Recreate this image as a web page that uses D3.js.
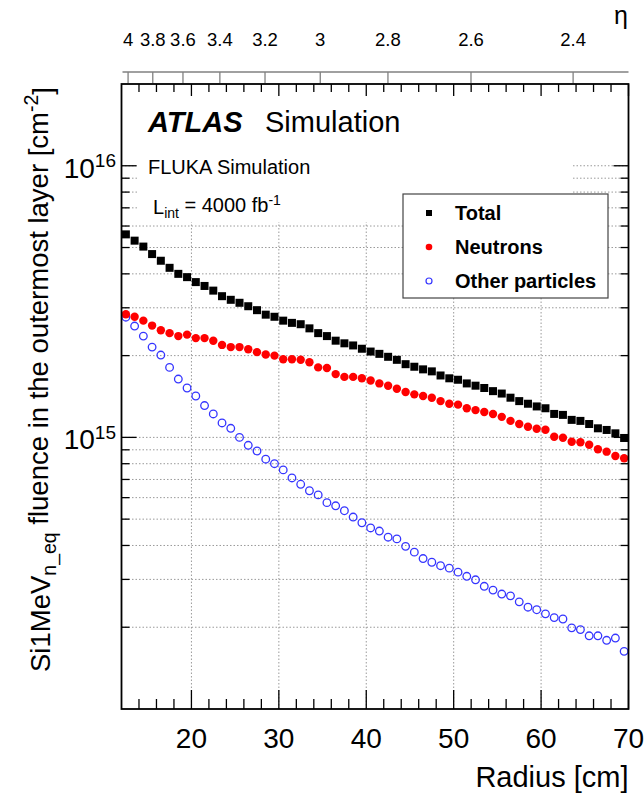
<!DOCTYPE html>
<html>
<head>
<meta charset="utf-8">
<script src="https://cdn.jsdelivr.net/npm/d3@7/dist/d3.min.js"></script>
<style>
  body { margin: 0; background: #fff; }
  svg { display: block; font-family: "Liberation Sans", Arial, Helvetica, sans-serif; }
</style>
</head>
<body>
<script>
// radius bin centres [cm]
const radius = [12.5, 13.5, 14.5, 15.5, 16.5, 17.5, 18.5, 19.5, 20.5, 21.5,
  22.5, 23.5, 24.5, 25.5, 26.5, 27.5, 28.5, 29.5, 30.5, 31.5,
  32.5, 33.5, 34.5, 35.5, 36.5, 37.5, 38.5, 39.5, 40.5, 41.5,
  42.5, 43.5, 44.5, 45.5, 46.5, 47.5, 48.5, 49.5, 50.5, 51.5,
  52.5, 53.5, 54.5, 55.5, 56.5, 57.5, 58.5, 59.5, 60.5, 61.5,
  62.5, 63.5, 64.5, 65.5, 66.5, 67.5, 68.5, 69.5];

// fluence in units of 1e15 cm^-2
const unit = 1e15;
const total = [5.59, 5.30, 5.04, 4.73, 4.47, 4.21, 4.00, 3.89, 3.73, 3.61,
  3.47, 3.31, 3.21, 3.13, 3.04, 2.94, 2.83, 2.78, 2.69, 2.64,
  2.61, 2.52, 2.42, 2.36, 2.27, 2.22, 2.18, 2.12, 2.07, 2.03,
  1.98, 1.93, 1.86, 1.82, 1.78, 1.75, 1.69, 1.65, 1.63, 1.58,
  1.55, 1.52, 1.48, 1.45, 1.40, 1.36, 1.33, 1.30, 1.28, 1.22,
  1.21, 1.16, 1.15, 1.12, 1.08, 1.065, 1.035, 0.995];
const neutrons = [2.84, 2.78, 2.69, 2.58, 2.48, 2.42, 2.36, 2.39, 2.32, 2.32,
  2.27, 2.19, 2.15, 2.15, 2.11, 2.06, 2.02, 2.00, 1.94, 1.94,
  1.93, 1.89, 1.81, 1.80, 1.71, 1.67, 1.67, 1.65, 1.62, 1.58,
  1.55, 1.51, 1.47, 1.44, 1.42, 1.40, 1.36, 1.33, 1.32, 1.28,
  1.26, 1.24, 1.22, 1.19, 1.15, 1.12, 1.095, 1.076, 1.067, 1.006,
  0.997, 0.964, 0.959, 0.940, 0.904, 0.886, 0.854, 0.838];
const others = [2.77, 2.57, 2.36, 2.15, 2.01, 1.81, 1.64, 1.52, 1.42, 1.31,
  1.22, 1.13, 1.08, 1.00, 0.935, 0.891, 0.831, 0.800, 0.759, 0.709,
  0.672, 0.636, 0.614, 0.575, 0.560, 0.537, 0.509, 0.485, 0.464, 0.452,
  0.429, 0.423, 0.397, 0.378, 0.358, 0.347, 0.337, 0.330, 0.319, 0.308,
  0.299, 0.283, 0.274, 0.265, 0.261, 0.248, 0.237, 0.232, 0.224, 0.217,
  0.2145, 0.199, 0.196, 0.186, 0.186, 0.179, 0.1825, 0.163];

// axis ticks
const xMajor = [20, 30, 40, 50, 60, 70];
const xMinor = [14, 16, 18, 22, 24, 26, 28, 32, 34, 36, 38, 42, 44, 46, 48,
  52, 54, 56, 58, 62, 64, 66, 68];
const xGrid = [20, 30, 40, 50, 60];
const yMajor = [1e15, 1e16];
const yMajorExp = ["15", "16"];
const yMinor = [2e14, 3e14, 4e14, 5e14, 6e14, 7e14, 8e14, 9e14,
  2e15, 3e15, 4e15, 5e15, 6e15, 7e15, 8e15, 9e15];
const etaTicks = [4, 3.8, 3.6, 3.4, 3.2, 3, 2.8, 2.6, 2.4];
const etaZ = 348; // z of the layer [cm], used to map eta -> radius

const legendEntries = ["Total", "Neutrons", "Other particles"];

const W = 644, H = 795;
const svg = d3.select("body").append("svg")
  .attr("width", W)
  .attr("height", H);

const x = d3.scaleLinear().domain([12, 70]).range([121.5, 628.5]);
const y = d3.scaleLog().domain([1e14, 2e16]).range([709, 84]);
const x0 = x.range()[0], x1 = x.range()[1];
const y0 = y.range()[0], y1 = y.range()[1];

function etaToRadius(eta) {
  let theta = 2 * Math.atan(Math.exp(-eta));
  return etaZ * Math.tan(theta);
}

/* GRID */
const gridColor = "#9a9a9a";
svg.append("g").selectAll("line")
  .data(yMajor.concat(yMinor))
  .join("line")
  .attr("x1", x0).attr("x2", x1)
  .attr("y1", d => y(d)).attr("y2", d => y(d))
  .style("stroke", gridColor)
  .style("stroke-width", 1)
  .style("stroke-dasharray", "1.5,2");

svg.append("g").selectAll("line")
  .data(xGrid)
  .join("line")
  .attr("x1", d => x(d)).attr("x2", d => x(d))
  .attr("y1", y0).attr("y2", y1)
  .style("stroke", gridColor)
  .style("stroke-width", 1)
  .style("stroke-dasharray", "1.5,2");

// white pad behind the labels hides the grid there
svg.append("rect")
  .attr("x", 137).attr("y", y1 + 1)
  .attr("width", 572 - 137).attr("height", 221 - y1)
  .style("fill", "#fff");

/* DATA */
const pts = radius.map((r, i) => ({r: r, t: total[i] * unit, n: neutrons[i] * unit, o: others[i] * unit}));

svg.append("g").selectAll("circle")
  .data(pts)
  .join("circle")
  .attr("cx", d => x(d.r))
  .attr("cy", d => y(d.o))
  .attr("r", 3.8)
  .style("fill", "none")
  .style("stroke", "#3535ff")
  .style("stroke-width", 1.3);

svg.append("g").selectAll("circle")
  .data(pts)
  .join("circle")
  .attr("cx", d => x(d.r))
  .attr("cy", d => y(d.n))
  .attr("r", 4.2)
  .style("fill", "#ff0000");

const sq = 8;
svg.append("g").selectAll("rect")
  .data(pts)
  .join("rect")
  .attr("x", d => x(d.r) - sq / 2)
  .attr("y", d => y(d.t) - sq / 2)
  .attr("width", sq)
  .attr("height", sq)
  .style("fill", "#000");

/* AXES (ROOT style: ticks inside the frame, mirrored) */
function tickLines(g, data, pos, len, horizontal, from, dir) {
  g.selectAll(null)
    .data(data)
    .join("line")
    .attr(horizontal ? "x1" : "y1", d => pos(d))
    .attr(horizontal ? "x2" : "y2", d => pos(d))
    .attr(horizontal ? "y1" : "x1", from)
    .attr(horizontal ? "y2" : "x2", from + dir * len)
    .style("stroke", "#000")
    .style("stroke-width", 1.3);
}

const axes = svg.append("g");
tickLines(axes, xMajor, x, 19, true, y0, -1);
tickLines(axes, xMinor, x, 10, true, y0, -1);
tickLines(axes, xMajor, x, 12, true, y1, 1);
tickLines(axes, xMinor, x, 8, true, y1, 1);
tickLines(axes, yMajor, y, 15, false, x0, 1);
tickLines(axes, yMinor, y, 8, false, x0, 1);
tickLines(axes, yMajor, y, 15, false, x1, -1);
tickLines(axes, yMinor, y, 8, false, x1, -1);

svg.append("rect")
  .attr("x", x0).attr("y", y1)
  .attr("width", x1 - x0).attr("height", y0 - y1)
  .style("fill", "none")
  .style("stroke", "#000")
  .style("stroke-width", 1.8);

// x labels
svg.append("g").selectAll("text")
  .data(xMajor)
  .join("text")
  .attr("x", d => x(d))
  .attr("y", 748)
  .attr("text-anchor", "middle")
  .style("font-size", "28px")
  .text(d => d);

svg.append("text")
  .attr("x", x1)
  .attr("y", 787)
  .attr("text-anchor", "end")
  .style("font-size", "29px")
  .text("Radius [cm]");

// y labels 10^n
yMajor.forEach(function(v, i) {
  let t = svg.append("text")
    .attr("x", 116)
    .attr("y", y(v) + 12)
    .attr("text-anchor", "end")
    .style("font-size", "28px");
  t.append("tspan").text("10");
  t.append("tspan")
    .attr("dy", "-0.55em")
    .style("font-size", "19px")
    .text(yMajorExp[i]);
});

// y title
let yt = svg.append("text")
  .attr("transform", "translate(50," + (y1 + 3) + ") rotate(-90)")
  .attr("text-anchor", "end")
  .style("font-size", "27.5px");
yt.append("tspan").text("Si1MeV");
yt.append("tspan").attr("dy", "0.3em").style("font-size", "19.5px").text("n_eq");
yt.append("tspan").attr("dy", "-0.3em").text(" fluence in the outermost layer [cm");
yt.append("tspan").attr("dy", "-0.5em").style("font-size", "19.5px").text("-2");
yt.append("tspan").attr("dy", "0.5em").text("]");

/* TOP ETA AXIS */
const etaY = 72;
const etaColor = "#808080";
svg.append("line")
  .attr("x1", x0 + 1).attr("x2", x1)
  .attr("y1", etaY).attr("y2", etaY)
  .style("stroke", etaColor)
  .style("stroke-width", 1.5);

svg.append("g").selectAll("line")
  .data(etaTicks)
  .join("line")
  .attr("x1", d => x(etaToRadius(d)))
  .attr("x2", d => x(etaToRadius(d)))
  .attr("y1", etaY).attr("y2", etaY + 11)
  .style("stroke", etaColor)
  .style("stroke-width", 1.3);

svg.append("g").selectAll("text")
  .data(etaTicks)
  .join("text")
  .attr("x", d => x(etaToRadius(d)))
  .attr("y", 46)
  .attr("text-anchor", "middle")
  .style("font-size", "18.5px")
  .text(d => d);

svg.append("text")
  .attr("x", 628)
  .attr("y", 24)
  .attr("text-anchor", "end")
  .style("font-size", "25px")
  .text("\u03b7");

/* LABELS */
svg.append("text")
  .attr("x", 148)
  .attr("y", 132)
  .style("font-size", "29px")
  .style("font-weight", "bold")
  .style("font-style", "italic")
  .text("ATLAS");

svg.append("text")
  .attr("x", 265)
  .attr("y", 132)
  .style("font-size", "29px")
  .text("Simulation");

svg.append("text")
  .attr("x", 148)
  .attr("y", 174)
  .style("font-size", "20px")
  .text("FLUKA Simulation");

let lum = svg.append("text")
  .attr("x", 153)
  .attr("y", 214)
  .style("font-size", "20px");
lum.append("tspan").text("L");
lum.append("tspan").attr("dy", "0.3em").style("font-size", "14px").text("int");
lum.append("tspan").attr("dy", "-0.3em").text(" = 4000 fb");
lum.append("tspan").attr("dy", "-0.5em").style("font-size", "14px").text("-1");

/* LEGEND */
const leg = svg.append("g");
leg.append("rect")
  .attr("x", 403).attr("y", 194)
  .attr("width", 205).attr("height", 104)
  .style("fill", "#fff")
  .style("stroke", "#444")
  .style("stroke-width", 1.2);

const legY = [213, 247, 281];
leg.append("rect")
  .attr("x", 429 - 3).attr("y", legY[0] - 3)
  .attr("width", 6).attr("height", 6)
  .style("fill", "#000");
leg.append("circle")
  .attr("cx", 429).attr("cy", legY[1])
  .attr("r", 3.3)
  .style("fill", "#ff0000");
leg.append("circle")
  .attr("cx", 429).attr("cy", legY[2])
  .attr("r", 3)
  .style("fill", "none")
  .style("stroke", "#3535ff")
  .style("stroke-width", 1.2);

leg.selectAll("text")
  .data(legendEntries)
  .join("text")
  .attr("x", 455)
  .attr("y", (d, i) => legY[i] + 7)
  .style("font-size", "20px")
  .style("font-weight", "bold")
  .text(d => d);
</script>
</body>
</html>
